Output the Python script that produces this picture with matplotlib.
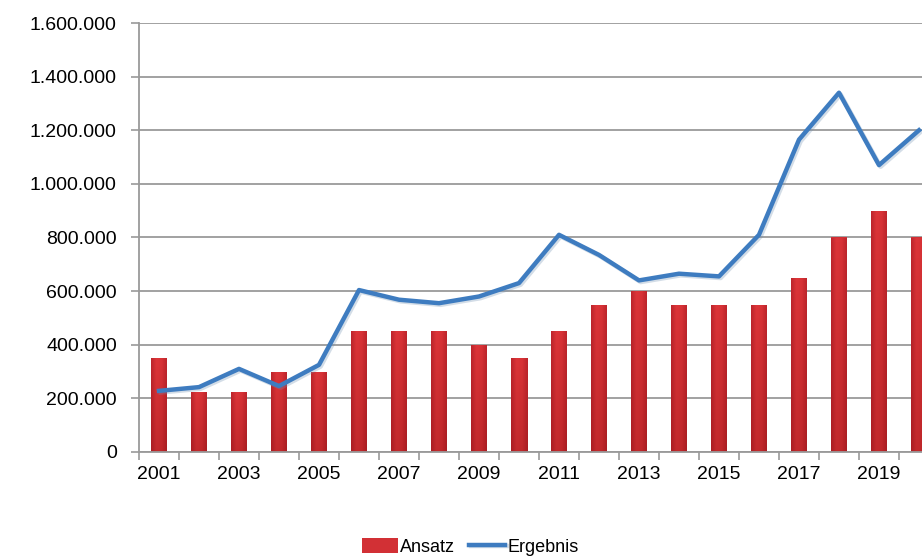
import matplotlib
matplotlib.use("Agg")
import matplotlib.pyplot as plt
import matplotlib.patheffects as pe
import numpy as np
from matplotlib.ticker import FuncFormatter, FixedLocator
from matplotlib.colors import LinearSegmentedColormap

plt.rcParams['font.family'] = ['Liberation Sans', 'DejaVu Sans']

# Jahre und Werte
jahre = list(range(2001, 2021))
ansatz = [350000, 225000, 225000, 300000, 300000, 450000, 450000, 450000, 400000, 350000,
          450000, 550000, 600000, 550000, 550000, 550000, 650000, 800000, 900000, 800000]
ergebnis = [228000, 242000, 310000, 246000, 325000, 604000, 568000, 555000, 580000, 630000,
            810000, 735000, 640000, 665000, 655000, 810000, 1165000, 1340000, 1070000, 1200000]

fig = plt.figure(figsize=(9.22, 5.59), dpi=100)
ax = fig.add_axes([139 / 922, 107 / 559, 800 / 922, 429 / 559])

x = np.arange(len(jahre))
bars = ax.bar(x, ansatz, width=0.4, color="#D23035", zorder=2, label="Ansatz")

# Farbverlauf in den Balken (leicht dunkler an den Rändern und unten)
cmap = LinearSegmentedColormap.from_list("rot", ["#BC252C", "#DC3539", "#D83337", "#BC252C"])
grad = np.tile(np.linspace(0, 1, 64), (64, 1))
for b in bars:
    x0, w, h = b.get_x(), b.get_width(), b.get_height()
    im = ax.imshow(grad, cmap=cmap, extent=[x0, x0 + w, 0, h], aspect="auto",
                   zorder=2.1, interpolation="bilinear")
    im.set_clip_path(b)
    shade = np.linspace(0.22, 0, 64)[:, None] * np.ones((64, 8))
    im2 = ax.imshow(np.dstack([np.full_like(shade, 0.4), np.zeros_like(shade),
                               np.zeros_like(shade), shade]),
                    extent=[x0, x0 + w, 0, h], aspect="auto", zorder=2.2,
                    origin="lower", interpolation="bilinear")
    im2.set_clip_path(b)

line, = ax.plot(x, ergebnis, color="#3E7CC0", lw=3.2, zorder=3, label="Ergebnis",
                path_effects=[pe.SimpleLineShadow(offset=(1.2, -1.2), shadow_color="#6F8FB0", alpha=0.3),
                              pe.Normal()])

ax.set_xlim(-0.5, len(jahre) - 0.5)
ax.set_ylim(0, 1600000)

# y-Achse
ax.set_yticks(np.arange(0, 1600001, 200000))
ax.yaxis.set_major_formatter(FuncFormatter(lambda v, p: f"{int(v):,}".replace(",", ".")))
ax.grid(axis="y", color="#9A9A9A", lw=1.3, zorder=0)
ax.tick_params(axis="y", length=6, width=1.2, color="#9A9A9A", labelsize=14, pad=10)

# x-Achse: Striche zwischen den Jahren, Beschriftung jedes zweite Jahr
ax.xaxis.set_major_locator(FixedLocator(np.arange(-0.5, len(jahre), 1.0)))
ax.xaxis.set_major_formatter(FuncFormatter(lambda v, p: ""))
ax.xaxis.set_minor_locator(FixedLocator(x[::2]))
ax.set_xticklabels([str(j) for j in jahre[::2]], minor=True)
ax.tick_params(axis="x", which="major", length=6, width=1.2, color="#9A9A9A")
ax.tick_params(axis="x", which="minor", length=0, labelsize=14, pad=10)

for s in ["top", "right"]:
    ax.spines[s].set_visible(False)
for s in ["left", "bottom"]:
    ax.spines[s].set_color("#9A9A9A")
    ax.spines[s].set_linewidth(1.3)

fig.legend(handles=[bars, line], labels=["Ansatz", "Ergebnis"],
           loc="center", bbox_to_anchor=(0.51, 0.022), ncol=2, frameon=False,
           fontsize=13, handlelength=2.0, handleheight=0.9, handletextpad=0.1,
           columnspacing=0.8)

plt.savefig("out.png", dpi=100)
